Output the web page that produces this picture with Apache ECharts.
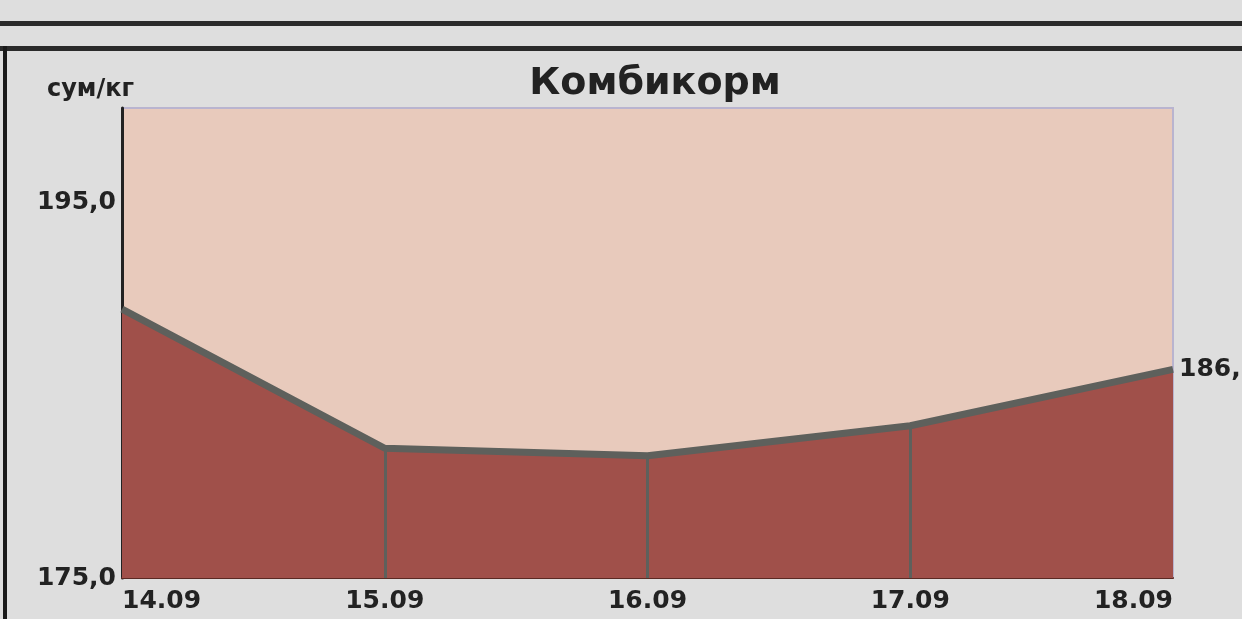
<!DOCTYPE html>
<html><head><meta charset="utf-8">
<script src="https://cdn.jsdelivr.net/npm/echarts@6/dist/echarts.min.js"></script>
<style>html,body{margin:0;padding:0;background:#dedede;}#c{width:1242px;height:619px;}</style>
</head><body><div id="c"></div>
<script>
const categories = ['14.09','15.09','16.09','17.09','18.09'];
const prices = [189.3, 181.9, 181.5, 183.1, 186.1];
const yTickLabels = [175, 195];
const yMin = 175, yMax = 200;

const fmt = v => v.toFixed(1).replace('.', ',');
const chart = echarts.init(document.getElementById('c'));
const font = 'DejaVu Sans';
chart.setOption({
  backgroundColor: '#dedede',
  animation: false,
  title: {
    text: 'Комбикорм', left: 650, textAlign: 'center', top: 60,
    textStyle: {fontFamily: font, fontWeight: 'bold', fontSize: 38, color: '#222'}
  },
  grid: {left: 122, right: 69, top: 108, bottom: 41, show: true,
         backgroundColor: '#e8cabc', borderColor: '#b9b4cf', borderWidth: 2},
  graphic: [
    {type: 'rect', shape: {x: 0, y: 21, width: 1242, height: 5}, style: {fill: '#2a2a2a'}},
    {type: 'rect', shape: {x: 0, y: 46, width: 1242, height: 5}, style: {fill: '#2a2a2a'}},
    {type: 'rect', shape: {x: 3, y: 46, width: 4, height: 573}, style: {fill: '#1a1a1a'}}
  ],
  xAxis: {
    type: 'category', data: categories, boundaryGap: false,
    axisLine: {show: true, lineStyle: {color: '#5a2a24', width: 2}},
    axisTick: {show: false},
    axisLabel: {fontFamily: font, fontWeight: 'bold', fontSize: 25, color: '#222', margin: 11,
                alignMinLabel: 'left', alignMaxLabel: 'right'}
  },
  yAxis: {
    type: 'value', min: yMin, max: yMax, interval: 5,
    name: 'сум/кг', nameLocation: 'end', nameGap: 6,
    nameTextStyle: {fontFamily: font, fontWeight: 'bold', fontSize: 24, color: '#222', align: 'right', padding: [0, -12, 0, 0]},
    splitLine: {show: false},
    axisLine: {show: true, lineStyle: {color: '#222', width: 3}},
    axisTick: {show: false},
    axisLabel: {fontFamily: font, fontWeight: 'bold', fontSize: 25, color: '#222', margin: 6,
                formatter: v => yTickLabels.includes(v) ? fmt(v) : ''}
  },
  series: [{
    type: 'line', data: prices, symbol: 'none',
    lineStyle: {color: '#5e605c', width: 7},
    areaStyle: {color: '#a0504a', opacity: 1, origin: 'start'},
    endLabel: {show: true, formatter: p => fmt(p.value), fontFamily: font, fontWeight: 'bold', fontSize: 25, color: '#222', distance: 6},
    markLine: {
      symbol: 'none', silent: true, label: {show: false},
      lineStyle: {color: '#5e605c', width: 3, type: 'solid'},
      data: categories.slice(1, -1).map((c, i) => [{coord: [c, yMin]}, {coord: [c, prices[i + 1]]}])
    }
  }]
});
</script></body></html>
